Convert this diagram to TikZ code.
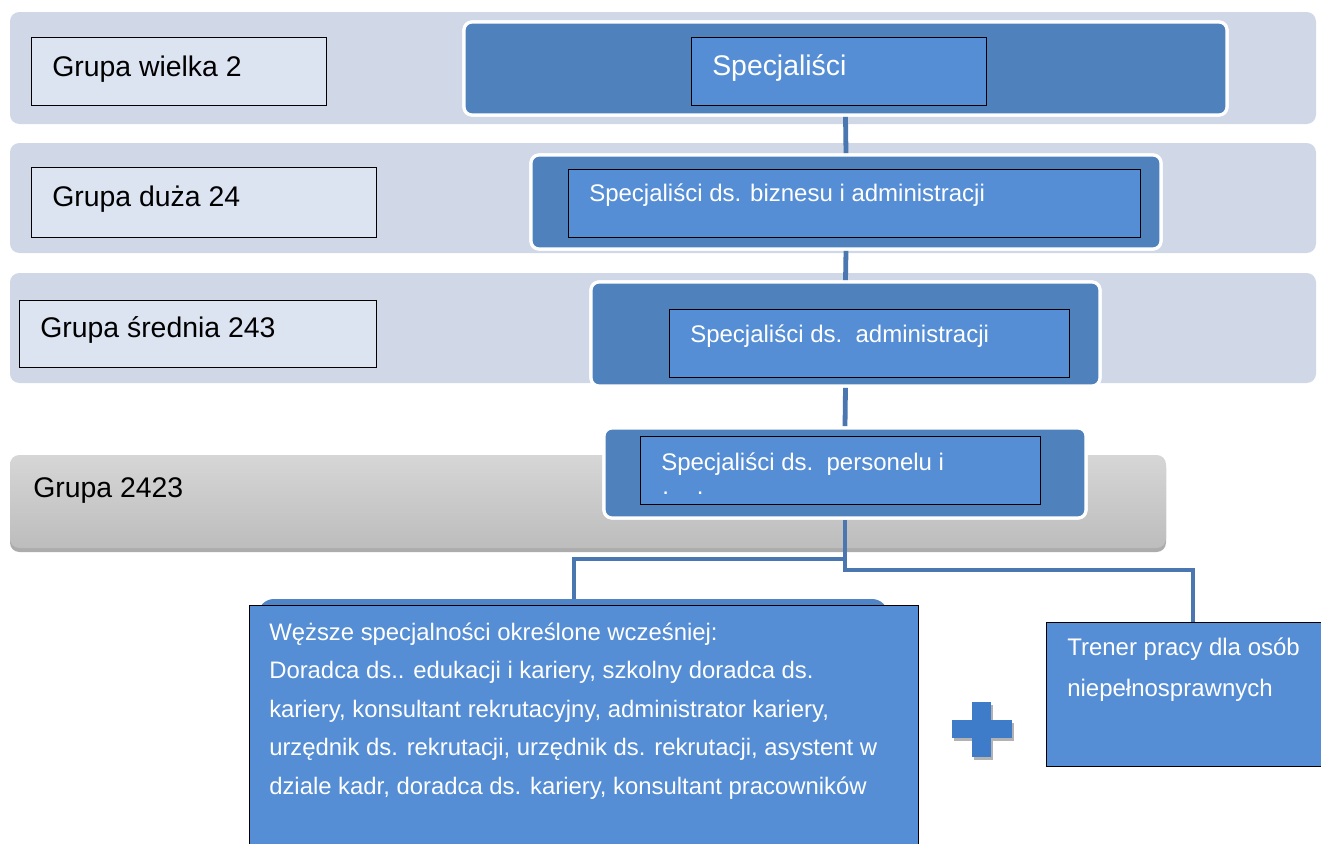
\documentclass[tikz,border=0pt]{standalone}
\usepackage{fontspec}
\setmainfont{Liberation Sans}
\usetikzlibrary{fit}
\definecolor{bandc}{HTML}{D0D8E8}
\definecolor{labc}{HTML}{DCE4F2}
\definecolor{outc}{HTML}{4F81BD}
\definecolor{inc}{HTML}{558ED5}
\definecolor{connc}{HTML}{4A77B0}
\definecolor{plusc}{HTML}{3E7CC9}
\definecolor{backc}{HTML}{4F84C9}
\begin{document}
\begin{tikzpicture}[x=0.75pt,y=-0.75pt,
  bandbox/.style={fill=bandc, rounded corners=7pt, inner sep=0pt},
  labbox/.style={fill=labc, draw=black, line width=0.75pt, inner sep=0pt},
  outbox/.style={fill=outc, draw=white, line width=2.4pt, rounded corners=6pt, inner sep=0pt},
  inbox/.style={fill=inc, draw=black, line width=0.75pt, inner sep=0pt},
  grp/.style={anchor=base west, inner sep=0pt, font=\fontsize{21.3}{25}\selectfont, text=black},
  spec/.style={anchor=base west, inner sep=0pt, font=\fontsize{18}{22}\selectfont, text=white},
  small/.style={anchor=base west, inner sep=0pt, font=\fontsize{17.9}{22}\selectfont, text=white},
  conn/.style={draw=connc, line width=3.6pt},
]
\useasboundingbox (0,0) rectangle (1321,843);
\clip (0,0) rectangle (1321,843);
\fill[white] (0,0) rectangle (1321,843);

% bands
\node[bandbox, fit={(10,12) (1316,124)}] (band1) {};
\node[bandbox, fit={(10,143) (1316,253)}] (band2) {};
\node[bandbox, fit={(10,273) (1316,383)}] (band3) {};
% gray band 4 with shadow
\fill[gray!65, rounded corners=7pt] (10,458) rectangle (1166,552);
\node[inner sep=0pt, rounded corners=7pt, top color=black!16, bottom color=black!26, fit={(10,455) (1166,548)}] (band4) {};

% label boxes
\node[labbox, fit={(31,37) (326,105)}] (l1) {};
\node[labbox, fit={(31,167) (376,237)}] (l2) {};
\node[labbox, fit={(19,300) (376,367)}] (l3) {};
\node[grp] (tl1) at (52,76) {Grupa wielka 2};
\node[grp] (tl2) at (52,206) {Grupa duża 24};
\node[grp] (tl3) at (40,337) {Grupa średnia 243};
\node[grp] (tl4) at (33,497) {Grupa 2423};

% level boxes and connectors between levels
\node[outbox, fit={(464,22) (1227,115)}] (b1) {};
\node[outbox, fit={(531,155) (1161,249)}] (b2) {};
\node[outbox, fit={(591,282) (1100,386)}] (b3) {};
\node[outbox, fit={(604,428) (1086,518)}] (b4) {};

\draw[conn] (b1.south) -- (b2.north);
\draw[conn] (b2.south) -- (b3.north);
\draw[conn] (b3.south) -- (b4.north);

% redraw boxes on top of connectors
\node[outbox, fit={(464,22) (1227,115)}] {};
\node[outbox, fit={(531,155) (1161,249)}] {};
\node[outbox, fit={(591,282) (1100,386)}] {};
\node[outbox, fit={(604,428) (1086,518)}] {};

\node[inbox, fit={(691,37) (986,105)}] (i1) {};
\node[inbox, fit={(568,169) (1140,237)}] (i2) {};
\node[inbox, fit={(669,309) (1069,377)}] (i3) {};
\node[inbox, fit={(640,436) (1040,504)}] (i4) {};
\node[spec, font=\fontsize{21.3}{25}\selectfont] (ti1) at (712,75) {Specjaliści};
\node[spec] (ti2) at (589,201) {Specjaliści ds. biznesu i administracji};
\node[spec] (ti3) at (690,342) {Specjaliści ds.\ \ administracji};
\node[spec] (ti4) at (661,470) {Specjaliści ds.\ \ personelu i};
\node[spec] (ti4b) at (662,494) {.\hspace{21pt}.};

% lower boxes
\node[fill=backc, rounded corners=12pt, inner sep=0pt, fit={(258,599) (888,700)}] (wback) {};
\node[inbox, fit={(249,605) (918,860)}] (wb) {};
\node[inbox, fit={(1046,622) (1340,766)}] (tr) {};

% branch connectors
\coordinate (jl) at (574,559);
\coordinate (jr) at (1193,570);
\draw[conn] (b4.south) -- (b4.south |- jr) -- (jr) -- (tr.north -| jr);
\draw[conn] (b4.south |- jl) -- (jl) -- (wback.north -| jl);

% texts of lower boxes
\node[small] (w1) at (269,640) {Węższe specjalności określone wcześniej:};
\node[small] (w2) at (269,678.5) {Doradca ds.. edukacji i kariery, szkolny doradca ds.};
\node[small] (w3) at (269,717) {kariery, konsultant rekrutacyjny, administrator kariery,};
\node[small] (w4) at (269,755.5) {urzędnik ds. rekrutacji, urzędnik ds. rekrutacji, asystent w};
\node[small] (w5) at (269,794) {dziale kadr, doradca ds. kariery, konsultant pracowników};
\node[spec] (t1) at (1067,655) {Trener pracy dla osób};
\node[spec] (t2) at (1067,696) {niepełnosprawnych};

% plus sign
\begin{scope}[shift={(2,3)}]
  \fill[gray!60] (952,720) rectangle (1012,738);
  \fill[gray!60] (972,702) rectangle (991,757);
\end{scope}
\fill[plusc] (952,720) rectangle (1012,738);
\fill[plusc] (972,702) rectangle (991,757);
\end{tikzpicture}
\end{document}
